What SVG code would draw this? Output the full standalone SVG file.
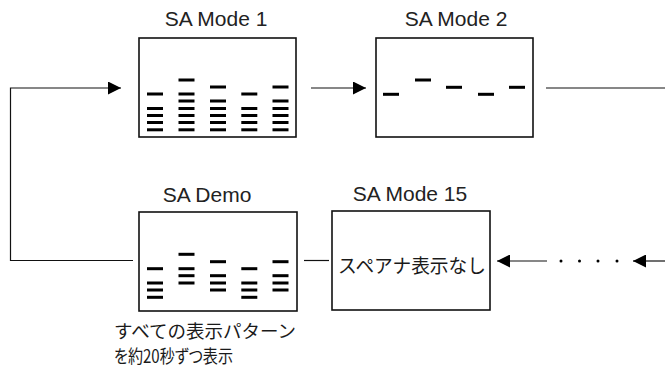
<svg xmlns="http://www.w3.org/2000/svg" width="665" height="366" viewBox="0 0 665 366">
<defs>
<style>
.box{fill:#fff;stroke:#111;stroke-width:1.6}
.ln{fill:none;stroke:#111;stroke-width:1.2}
.t{font-family:"Liberation Sans",Arial,sans-serif;font-size:21px;fill:#222;text-anchor:middle}
.j{font-family:"Noto Sans CJK JP","Noto Sans",sans-serif;fill:#1a1a1a}
.p{font-feature-settings:"palt" 1}
.b{fill:#000}
</style>
<marker id="ah" markerUnits="userSpaceOnUse" markerWidth="14" markerHeight="13" refX="13" refY="6.5" orient="auto">
<path d="M0,0 L13,6.5 L0,13 Z" fill="#000"/>
</marker>
<rect id="bar" width="16" height="3"/>
</defs>
<rect width="665" height="366" fill="#fff"/>

<g id="connectors">
<polyline class="ln" points="133,260.5 10.5,260.5 10.5,88 121,88" marker-end="url(#ah)"/>
<line class="ln" x1="311" y1="88" x2="366" y2="88" marker-end="url(#ah)"/>
<line class="ln" x1="546" y1="88" x2="665" y2="88"/>
<line class="ln" x1="304" y1="260.5" x2="329" y2="260.5"/>
<line class="ln" x1="547" y1="261" x2="497" y2="261" marker-end="url(#ah)"/>
<line class="ln" x1="665" y1="261" x2="633" y2="261" marker-end="url(#ah)"/>
<g fill="#000">
<circle cx="561" cy="261" r="1.5"/>
<circle cx="579.5" cy="261" r="1.5"/>
<circle cx="598" cy="261" r="1.5"/>
<circle cx="617" cy="261" r="1.5"/>
</g>
</g>

<g id="sa-mode-1">
<text class="t" x="216" y="26">SA Mode 1</text>
<rect class="box" x="139" y="38" width="157" height="99"/>
<g class="b">
<use href="#bar" x="147" y="92.5"/><use href="#bar" x="147" y="107"/><use href="#bar" x="147" y="114"/><use href="#bar" x="147" y="121"/><use href="#bar" x="147" y="128.3"/>
<use href="#bar" x="178.5" y="78.5"/><use href="#bar" x="178.5" y="92.5"/><use href="#bar" x="178.5" y="99.5"/><use href="#bar" x="178.5" y="107"/><use href="#bar" x="178.5" y="114"/><use href="#bar" x="178.5" y="121"/><use href="#bar" x="178.5" y="128.3"/>
<use href="#bar" x="210" y="85.5"/><use href="#bar" x="210" y="99.5"/><use href="#bar" x="210" y="107"/><use href="#bar" x="210" y="114"/><use href="#bar" x="210" y="121"/><use href="#bar" x="210" y="128.3"/>
<use href="#bar" x="241.3" y="92.5"/><use href="#bar" x="241.3" y="107"/><use href="#bar" x="241.3" y="114"/><use href="#bar" x="241.3" y="121"/><use href="#bar" x="241.3" y="128.3"/>
<use href="#bar" x="272.5" y="85.5"/><use href="#bar" x="272.5" y="99.5"/><use href="#bar" x="272.5" y="107"/><use href="#bar" x="272.5" y="114"/><use href="#bar" x="272.5" y="121"/><use href="#bar" x="272.5" y="128.3"/>
</g>
</g>

<g id="sa-mode-2">
<text class="t" x="456" y="26">SA Mode 2</text>
<rect class="box" x="376" y="38" width="157" height="99"/>
<g class="b">
<use href="#bar" x="383" y="92.8"/>
<use href="#bar" x="415" y="78.5"/>
<use href="#bar" x="446" y="85.8"/>
<use href="#bar" x="478" y="92.8"/>
<use href="#bar" x="509" y="85.8"/>
</g>
</g>

<g id="sa-demo">
<text class="t" x="207" y="201.5">SA Demo</text>
<rect class="box" x="139" y="212" width="158" height="99"/>
<g class="b">
<use href="#bar" x="147" y="267.2"/><use href="#bar" x="147" y="281.5"/><use href="#bar" x="147" y="288.5"/><use href="#bar" x="147" y="295.8"/>
<use href="#bar" x="178.5" y="252.8"/><use href="#bar" x="178.5" y="267.2"/><use href="#bar" x="178.5" y="274.2"/><use href="#bar" x="178.5" y="281.5"/>
<use href="#bar" x="210" y="260.2"/><use href="#bar" x="210" y="274.2"/><use href="#bar" x="210" y="281.5"/><use href="#bar" x="210" y="288.5"/>
<use href="#bar" x="241.3" y="267.2"/><use href="#bar" x="241.3" y="281.5"/><use href="#bar" x="241.3" y="288.5"/><use href="#bar" x="241.3" y="295.8"/>
<use href="#bar" x="272.5" y="260.2"/><use href="#bar" x="272.5" y="274.2"/><use href="#bar" x="272.5" y="281.5"/><use href="#bar" x="272.5" y="288.5"/>
</g>
<text class="j" x="114" y="337.5" font-size="18" textLength="182" lengthAdjust="spacingAndGlyphs">すべての表示パターン</text>
<text class="j p" x="114" y="362.5" font-size="18" textLength="119" lengthAdjust="spacingAndGlyphs">を約20秒ずつ表示</text>
</g>

<g id="sa-mode-15">
<text class="t" x="410" y="201">SA Mode 15</text>
<rect class="box" x="332" y="211" width="158" height="99"/>
<text class="j" x="338" y="272.5" font-size="19" textLength="148" lengthAdjust="spacingAndGlyphs">スペアナ表示なし</text>
</g>
</svg>
